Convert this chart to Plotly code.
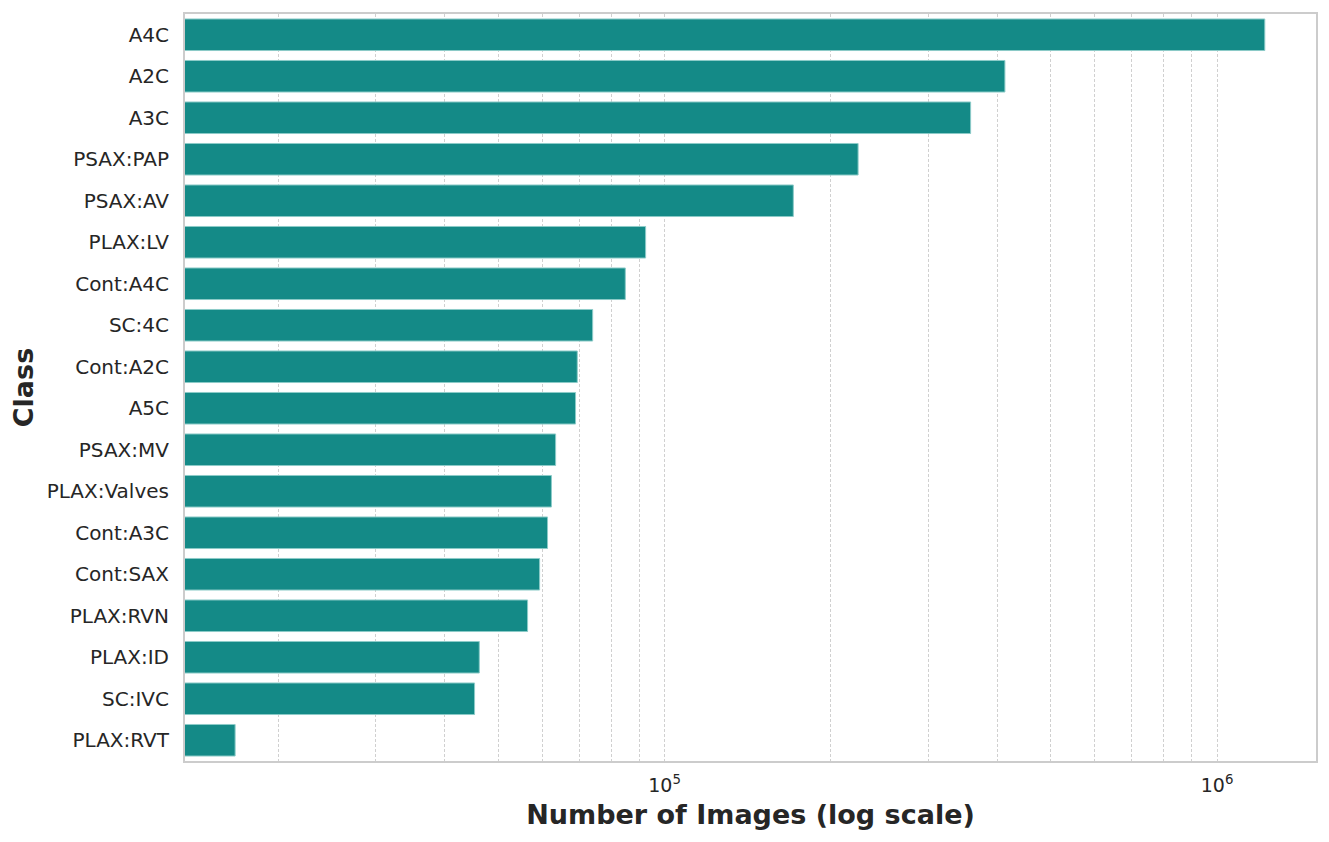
import plotly.graph_objects as go

classes = [
    "A4C", "A2C", "A3C", "PSAX:PAP", "PSAX:AV", "PLAX:LV", "Cont:A4C", "SC:4C",
    "Cont:A2C", "A5C", "PSAX:MV", "PLAX:Valves", "Cont:A3C", "Cont:SAX",
    "PLAX:RVN", "PLAX:ID", "SC:IVC", "PLAX:RVT",
]
num_images = [
    1220000, 413000, 358000, 224000, 171000, 92400, 84900, 74100,
    69500, 69000, 63500, 62400, 61400, 59400,
    56500, 46200, 45300, 16700,
]
tick_vals = [1e5, 1e6]
tick_text = ["10<sup>5</sup>", "10<sup>6</sup>"]

# the page body keeps its default 8px margin, so the figure is 8px smaller
fig = go.Figure(
    go.Bar(
        x=num_images,
        y=classes,
        orientation="h",
        width=0.76,
        marker=dict(color="#148a87", line=dict(color="#8ccbc8", width=1)),
    )
)

fig.update_layout(
    width=1321,
    height=834,
    margin=dict(l=177, r=13, t=4, b=81),
    plot_bgcolor="white",
    paper_bgcolor="white",
    font=dict(family="DejaVu Sans", size=20, color="#262626"),
    showlegend=False,
)

grid = dict(showgrid=True, gridcolor="#d0d0d0", griddash="3px,2px", gridwidth=1)

fig.update_xaxes(
    type="log",
    range=[4.132, 6.179],
    tickvals=tick_vals,
    ticktext=tick_text,
    **grid,
    minor=dict(dtick="D1", **grid),
    showline=True,
    linecolor="#cccccc",
    linewidth=2,
    mirror=True,
    ticks="",
    tickfont=dict(size=19),
    ticklabelstandoff=6,
    title=dict(text="<b>Number of Images (log scale)</b>", font=dict(size=27), standoff=10),
    zeroline=False,
)

fig.update_yaxes(
    categoryorder="array",
    categoryarray=classes[::-1],
    range=[-0.5, len(classes) - 0.5],
    showgrid=False,
    showline=True,
    linecolor="#cccccc",
    linewidth=2,
    mirror=True,
    ticks="",
    ticklabelstandoff=10,
    title=dict(text="<b>Class</b>", font=dict(size=27), standoff=10),
)

fig.write_html("out.html")
